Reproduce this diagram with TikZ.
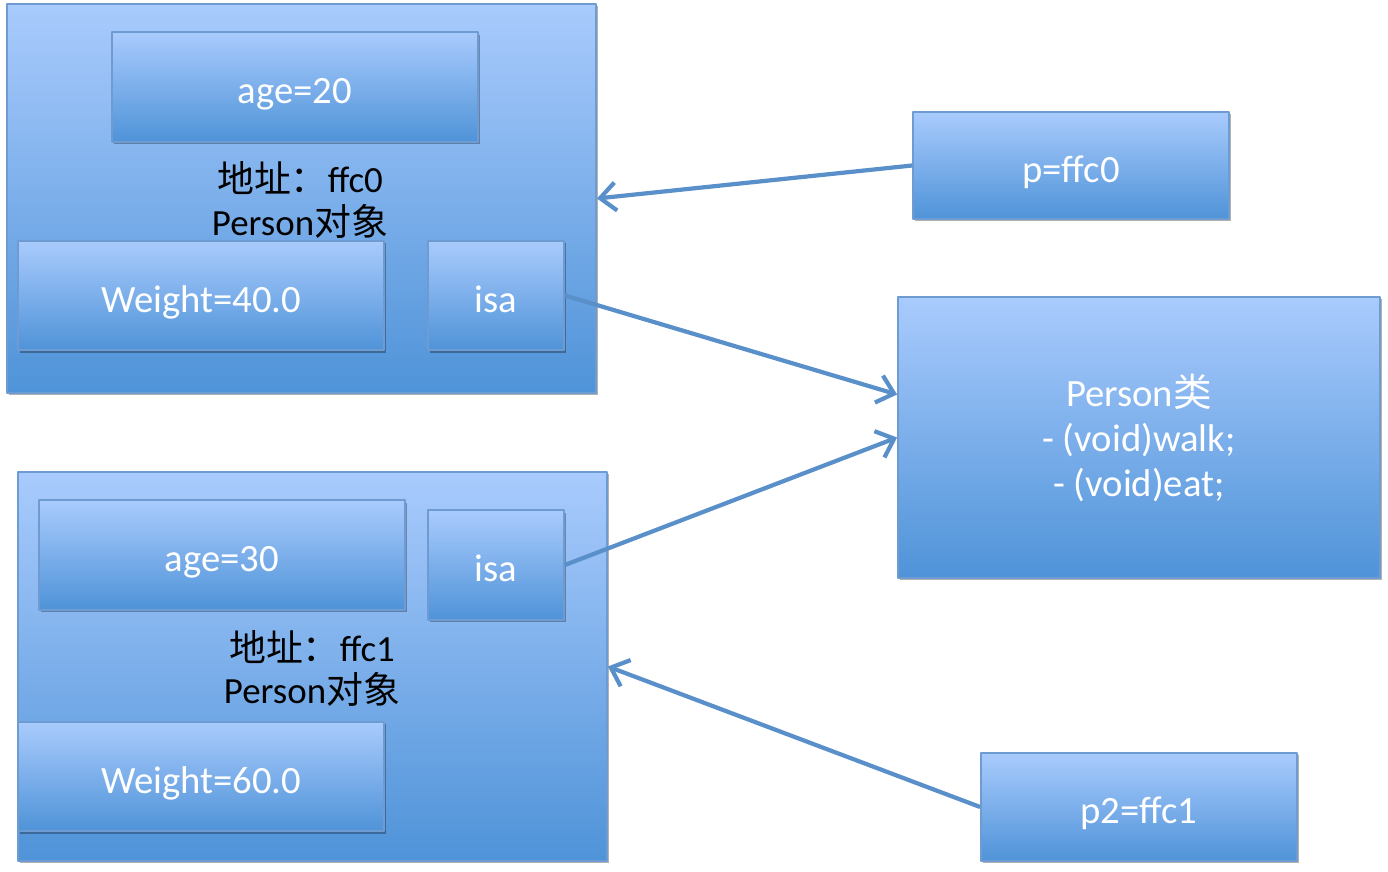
\documentclass[tikz,border=0pt]{standalone}
\usepackage{fontspec}
\setmainfont{Carlito}
\newfontfamily\cjk{Noto Sans CJK SC}
\usetikzlibrary{arrows.meta,shadows}
\definecolor{Btop}{HTML}{A9CBFD}
\definecolor{Bbot}{HTML}{4F93D8}
\definecolor{Bline}{HTML}{6E9BD1}
\definecolor{Aline}{HTML}{5A90CA}

\begin{document}
\begin{tikzpicture}[line join=round,
  box/.style={rectangle,draw=Bline,line width=0.5pt,top color=Btop,bottom color=Bbot,
    text=white,font=\fontsize{11}{13}\selectfont,inner sep=0pt,align=center,
    drop shadow={shadow xshift=0.7pt,shadow yshift=-0.7pt,opacity=0.3,fill=black}},
  field/.style={box,text height=9.4pt,text depth=0pt},
  link/.style={Aline,line width=1.2pt,-{Straight Barb[length=4.5pt,width=8pt,line width=1.2pt]}}]
\useasboundingbox (0,0) rectangle (13.88,-8.72);

% ---- the two Person objects ----
\node[box,minimum width=5.89cm,minimum height=3.89cm] (objA) at (3.015,-1.985) {};
\node[box,minimum width=5.89cm,minimum height=3.89cm] (objB) at (3.125,-6.665) {};

% ---- their fields ----
\foreach \n/\x/\y/\w/\t in {%
    ageA/2.95/-0.87/3.66/{age=20},
    wA/2.01/-2.955/3.66/{Weight=40.0},
    isaA/4.96/-2.955/1.36/{isa},
    ageB/2.22/-5.55/3.66/{age=30},
    isaB/4.96/-5.65/1.36/{isa},
    wB/2.01/-7.765/3.66/{Weight=60.0}}{
  \node[field,minimum width=\w cm,minimum height=1.095cm] (\n) at (\x,\y) {\t};}

% ---- address labels ----
\node[align=center,font=\fontsize{10.5}{12}\selectfont] (addrA) at (3.00,-2.00)
  {{\cjk 地址：}ffc0\\Person{\cjk 对象}};
\node[align=center,font=\fontsize{10.5}{12}\selectfont] (addrB) at (3.12,-6.685)
  {{\cjk 地址：}ffc1\\Person{\cjk 对象}};

% ---- pointers and the class ----
\node[field,minimum width=3.16cm,minimum height=1.07cm] (pA) at (10.71,-1.655) {p=ffc0};
\node[field,minimum width=3.16cm,minimum height=1.08cm] (pB) at (11.39,-8.07) {p2=ffc1};
\node[box,minimum width=4.82cm,minimum height=2.81cm,
  font=\fontsize{11}{12.8}\selectfont] (cls) at (11.39,-4.375)
  {Person{\cjk 类}\\- (void)walk;\\- (void)eat;};

% ---- arrows ----
\draw[link] (pA.west) -- (objA.east);
\draw[link] (isaA.east) -- ([yshift=0.43cm]cls.west);
\draw[link] (isaB.east) -- (cls.west);
\draw[link] (pB.west) -- (objB.east);
\end{tikzpicture}
\end{document}
